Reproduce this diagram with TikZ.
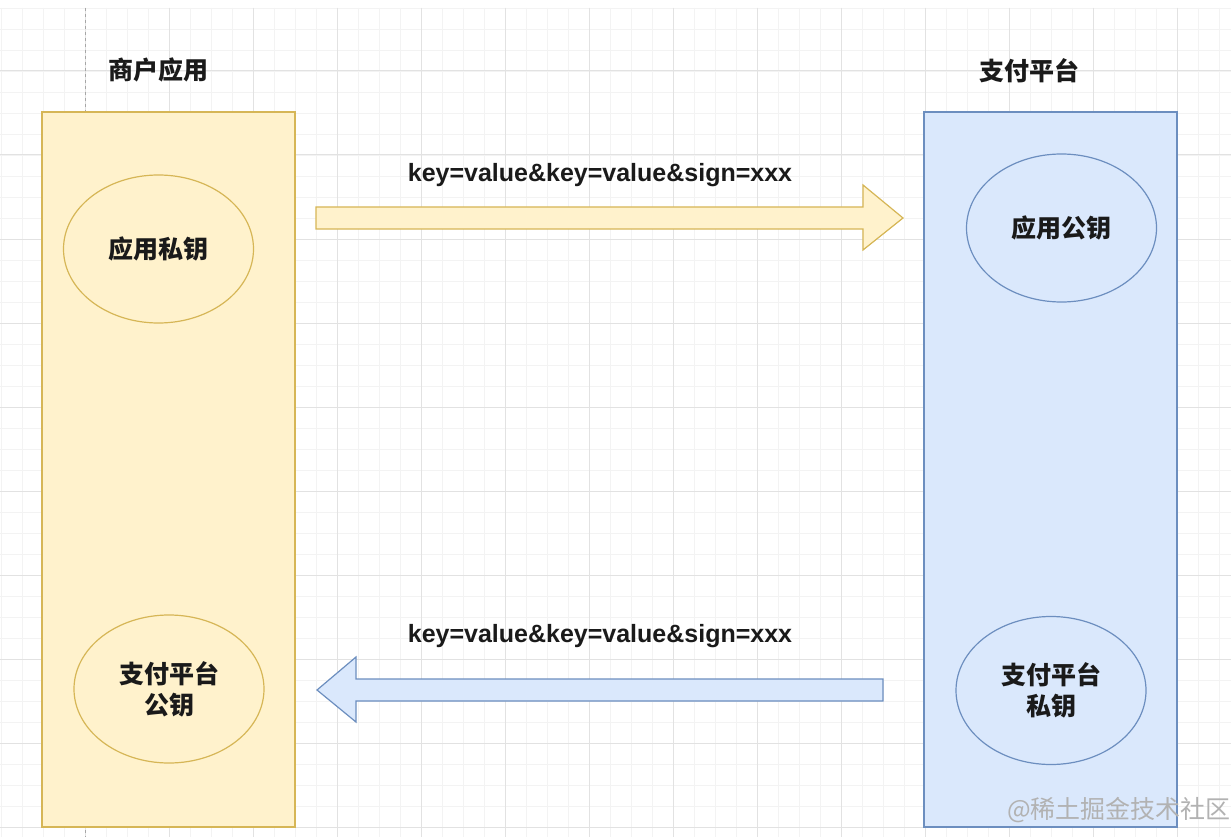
\documentclass[tikz,border=0pt]{standalone}
\usepackage{fontspec}
\setmainfont{Liberation Sans}
\newfontfamily\cjk{Noto Sans CJK SC}
\definecolor{yfill}{HTML}{FFF2CC}
\definecolor{ydraw}{HTML}{D6B656}
\definecolor{bfill}{HTML}{DAE8FC}
\definecolor{bdraw}{HTML}{6C8EBF}
\definecolor{gmajor}{HTML}{E2E2E2}
\definecolor{gminor}{HTML}{F3F3F3}
\definecolor{txt}{HTML}{1A1A1A}
\tikzset{
  lane/.style={draw=#1draw, fill=#1fill, line width=1.2pt, minimum width=253pt, minimum height=715pt, inner sep=0pt},
  keynode/.style={ellipse, draw=#1draw, fill=#1fill, line width=1.2pt, minimum width=190pt, minimum height=148pt, inner sep=0pt, align=center, font=\cjk\bfseries\fontsize{25}{31}\selectfont, text=txt},
  title/.style={font=\cjk\bfseries\fontsize{25}{28}\selectfont, text=txt},
  msg/.style={font=\bfseries\fontsize{25}{28}\selectfont, text=txt},
  blockarrow/.style={draw=#1draw, fill=#1fill, line width=1.2pt, line join=miter},
}
\usetikzlibrary{shapes.geometric}
\begin{document}
\begin{tikzpicture}[x=1pt,y=-1pt]
\useasboundingbox (0,0) rectangle (1231,837);
\fill[white] (0,0) rectangle (1231,837);
% grid
\foreach \i in {0,...,58} {\draw[gminor, line width=0.8pt] (1+21*\i,8) -- (1+21*\i,837);}
\foreach \j in {0,...,39} {\draw[gminor, line width=0.8pt] (0,8+21*\j) -- (1231,8+21*\j);}
\foreach \i in {0,...,14} {\draw[gmajor, line width=1pt] (85+84*\i,8) -- (85+84*\i,837);}
\foreach \j in {0,...,9} {\draw[gmajor, line width=1pt] (0,71+84*\j) -- (1231,71+84*\j);}
\draw[gray!70, dashed, line width=0.8pt] (85,8) -- (85,837);
% lanes
\node[lane=y] (merchant) at (168.5,469.5) {};
\node[lane=b] (platform) at (1050.5,469.5) {};
\node[title] (mtitle) at (158,70) {商户应用};
\node[title] (ptitle) at (1029,71) {支付平台};
% keys
\node[keynode=y] (apppriv) at (158.5,249) {应用私钥};
\node[keynode=y] (platpub) at (169,689) {支付平台\\公钥};
\node[keynode=b] (apppub) at (1061.5,228) {应用公钥};
\node[keynode=b] (platpriv) at (1051,690.5) {支付平台\\私钥};
% arrows
\coordinate (a1s) at (316,218);
\coordinate (a1t) at (903,218);
\draw[blockarrow=y] (316,207) -- (863,207) -- (863,185) -- (a1t) -- (863,250) -- (863,229) -- (316,229) -- cycle;
\coordinate (a2s) at (883,690);
\coordinate (a2t) at (317,690);
\draw[blockarrow=b] (883,679) -- (356,679) -- (356,657) -- (a2t) -- (356,722) -- (356,701) -- (883,701) -- cycle;
\node[msg] (m1) at (600,175) {key=value\&key=value\&sign=xxx};
\node[msg] (m2) at (600,636) {key=value\&key=value\&sign=xxx};
% watermark
\node[anchor=east, inner sep=0pt, font=\cjk\fontsize{25}{28}\selectfont, text=gray!60] (wm) at (1231,810) {@稀土掘金技术社区};
\end{tikzpicture}
\end{document}
